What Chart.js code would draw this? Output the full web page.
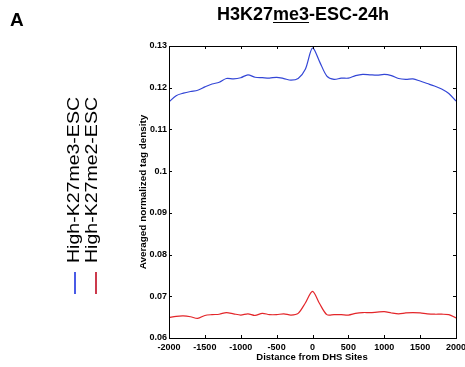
<!DOCTYPE html>
<html>
<head>
<meta charset="utf-8">
<script src="https://cdn.jsdelivr.net/npm/chart.js@4"></script>
<style>
  body { margin: 0; background: #fff; font-family: Arial, "Liberation Sans", Helvetica, sans-serif; }
  #wrap { position: relative; width: 465px; height: 367px; overflow: hidden; }
  #chart { position: absolute; left: 0; top: 0; }
  .txt { position: absolute; white-space: nowrap; color: #000; }
  .rot { transform-origin: center center; }
  .key { position: absolute; width: 1.5px; }
</style>
</head>
<body>
<div id="wrap">
  <canvas id="chart" width="465" height="367"></canvas>
  <div class="txt" id="panel" style="left:10px; top:9px; font-size:19px; font-weight:bold;">A</div>
  <div class="txt" id="title" style="left:303px; top:4px; font-size:18px; font-weight:bold; transform:translateX(-50%);">H3K27<span style="text-decoration:underline; text-underline-offset:2px;">me3</span>-ESC-24h</div>
  <div class="txt rot fit" id="ytitle" data-cx="143" data-cy="192" data-len="155" style="font-size:9px; font-weight:bold;">Averaged normalized tag density</div>
  <div class="txt" id="xtitle" style="left:312px; top:351px; font-size:9.5px; font-weight:bold; transform:translateX(-50%);">Distance from DHS Sites</div>
  <div class="txt rot fit" id="leg1" data-cx="74" data-cy="180" data-len="166" style="font-size:16px;">High-K27me3-ESC</div>
  <div class="txt rot fit" id="leg2" data-cx="92" data-cy="180" data-len="166" style="font-size:16px;">High-K27me2-ESC</div>
  <div class="key" style="left:74px; top:272px; height:22px; background:#4a5be6;"></div>
  <div class="key" style="left:95px; top:272px; height:22px; background:#cc3a4c;"></div>
</div>
<script>
/* ===== DATA ===== */
const distances = [
  -2000, -1900, -1800, -1700, -1600, -1500, -1400, -1300, -1200, -1100,
  -1000, -900, -800, -700, -600, -500, -400, -300, -200, -100,
  0, 100, 200, 300, 400, 500, 600, 700, 800, 900,
  1000, 1100, 1200, 1300, 1400, 1500, 1600, 1700, 1800, 1900, 2000
];

const me3Density = [
  0.1166, 0.1181, 0.1187, 0.1191, 0.1194, 0.1202, 0.1209, 0.1213, 0.1222, 0.1221,
  0.1224, 0.1231, 0.1225, 0.1224, 0.1223, 0.1225, 0.1222, 0.1218, 0.1222, 0.1244,
  0.1295, 0.1262, 0.1228, 0.1220, 0.1223, 0.1223, 0.1229, 0.1232, 0.1231, 0.1230,
  0.1232, 0.1229, 0.1222, 0.1220, 0.1221, 0.1216, 0.1210, 0.1204, 0.1197, 0.1186, 0.1168
];

const me2Density = [
  0.0649, 0.0652, 0.0653, 0.0651, 0.0647, 0.0654, 0.0656, 0.0657, 0.0661, 0.0658,
  0.0655, 0.0658, 0.0654, 0.0659, 0.0656, 0.0656, 0.0658, 0.0655, 0.0659, 0.0684,
  0.0712, 0.0682, 0.0656, 0.0656, 0.0656, 0.0655, 0.0659, 0.0661, 0.0661, 0.0662,
  0.0663, 0.0660, 0.0658, 0.0660, 0.0661, 0.0660, 0.0658, 0.0657, 0.0657, 0.0656, 0.0648
];

const xTicks = [-2000, -1500, -1000, -500, 0, 500, 1000, 1500, 2000];
const yTicks = [0.06, 0.07, 0.08, 0.09, 0.1, 0.11, 0.12, 0.13];

function toPoints(values) {
  return distances.map((d, i) => ({ x: d, y: values[i] }));
}

/* ===== STRETCH ROTATED LABELS ===== */
document.querySelectorAll(".fit").forEach(el => {
  const w = el.offsetWidth;
  const h = el.offsetHeight;
  const k = Number(el.dataset.len) / w;
  el.style.left = (Number(el.dataset.cx) - w / 2) + "px";
  el.style.top = (Number(el.dataset.cy) - h / 2) + "px";
  el.style.transform = `rotate(-90deg) scaleX(${k})`;
});

/* ===== MATLAB STYLE BOX + INWARD TICKS ===== */
const boxTicks = {
  id: "boxTicks",
  afterDraw(chart) {
    const { ctx, chartArea: a, scales } = chart;
    ctx.save();
    ctx.strokeStyle = "#000";
    ctx.lineWidth = 1;
    ctx.strokeRect(Math.round(a.left) + 0.5, Math.round(a.top) + 0.5,
      Math.round(a.right - a.left), Math.round(a.bottom - a.top));
    ctx.beginPath();
    xTicks.forEach(t => {
      const px = Math.round(scales.x.getPixelForValue(t)) + 0.5;
      ctx.moveTo(px, a.bottom); ctx.lineTo(px, a.bottom - 3);
      ctx.moveTo(px, a.top); ctx.lineTo(px, a.top + 3);
    });
    yTicks.forEach(t => {
      const py = Math.round(scales.y.getPixelForValue(t)) + 0.5;
      ctx.moveTo(a.left, py); ctx.lineTo(a.left + 3, py);
      ctx.moveTo(a.right, py); ctx.lineTo(a.right - 3, py);
    });
    ctx.stroke();
    ctx.restore();
  }
};

/* ===== CHART ===== */
const tickFont = { family: "Arial, 'Liberation Sans', sans-serif", size: 9, weight: "bold" };

new Chart(document.getElementById("chart"), {
  type: "line",
  data: {
    datasets: [
      {
        label: "High-K27me3-ESC",
        data: toPoints(me3Density),
        borderColor: "#3346d6",
        borderWidth: 1.2,
        pointRadius: 0,
        tension: 0.3,
        fill: false
      },
      {
        label: "High-K27me2-ESC",
        data: toPoints(me2Density),
        borderColor: "#e3262a",
        borderWidth: 1.2,
        pointRadius: 0,
        tension: 0.3,
        fill: false
      }
    ]
  },
  options: {
    responsive: false,
    animation: false,
    devicePixelRatio: 1,
    layout: { padding: { left: 0, top: 46, right: 9, bottom: 0 } },
    plugins: { legend: { display: false }, tooltip: { enabled: false } },
    scales: {
      x: {
        type: "linear",
        min: -2000,
        max: 2000,
        grid: { display: false, drawTicks: false },
        border: { display: false },
        afterBuildTicks: s => { s.ticks = xTicks.map(v => ({ value: v })); },
        afterFit: s => { s.height = 29; s.paddingLeft = 0; s.paddingRight = 0; },
        ticks: { color: "#000", font: tickFont, padding: 4, maxRotation: 0, autoSkip: false,
          callback: v => String(v) }
      },
      y: {
        type: "linear",
        min: 0.06,
        max: 0.13,
        grid: { display: false, drawTicks: false },
        border: { display: false },
        afterBuildTicks: s => { s.ticks = yTicks.map(v => ({ value: v })); },
        afterFit: s => { s.width = 169; s.paddingTop = 0; s.paddingBottom = 0; },
        ticks: { color: "#000", font: tickFont, padding: 2, autoSkip: false,
          callback: v => String(Number(v.toFixed(2))) }
      }
    }
  },
  plugins: [boxTicks]
});
</script>
</body>
</html>
